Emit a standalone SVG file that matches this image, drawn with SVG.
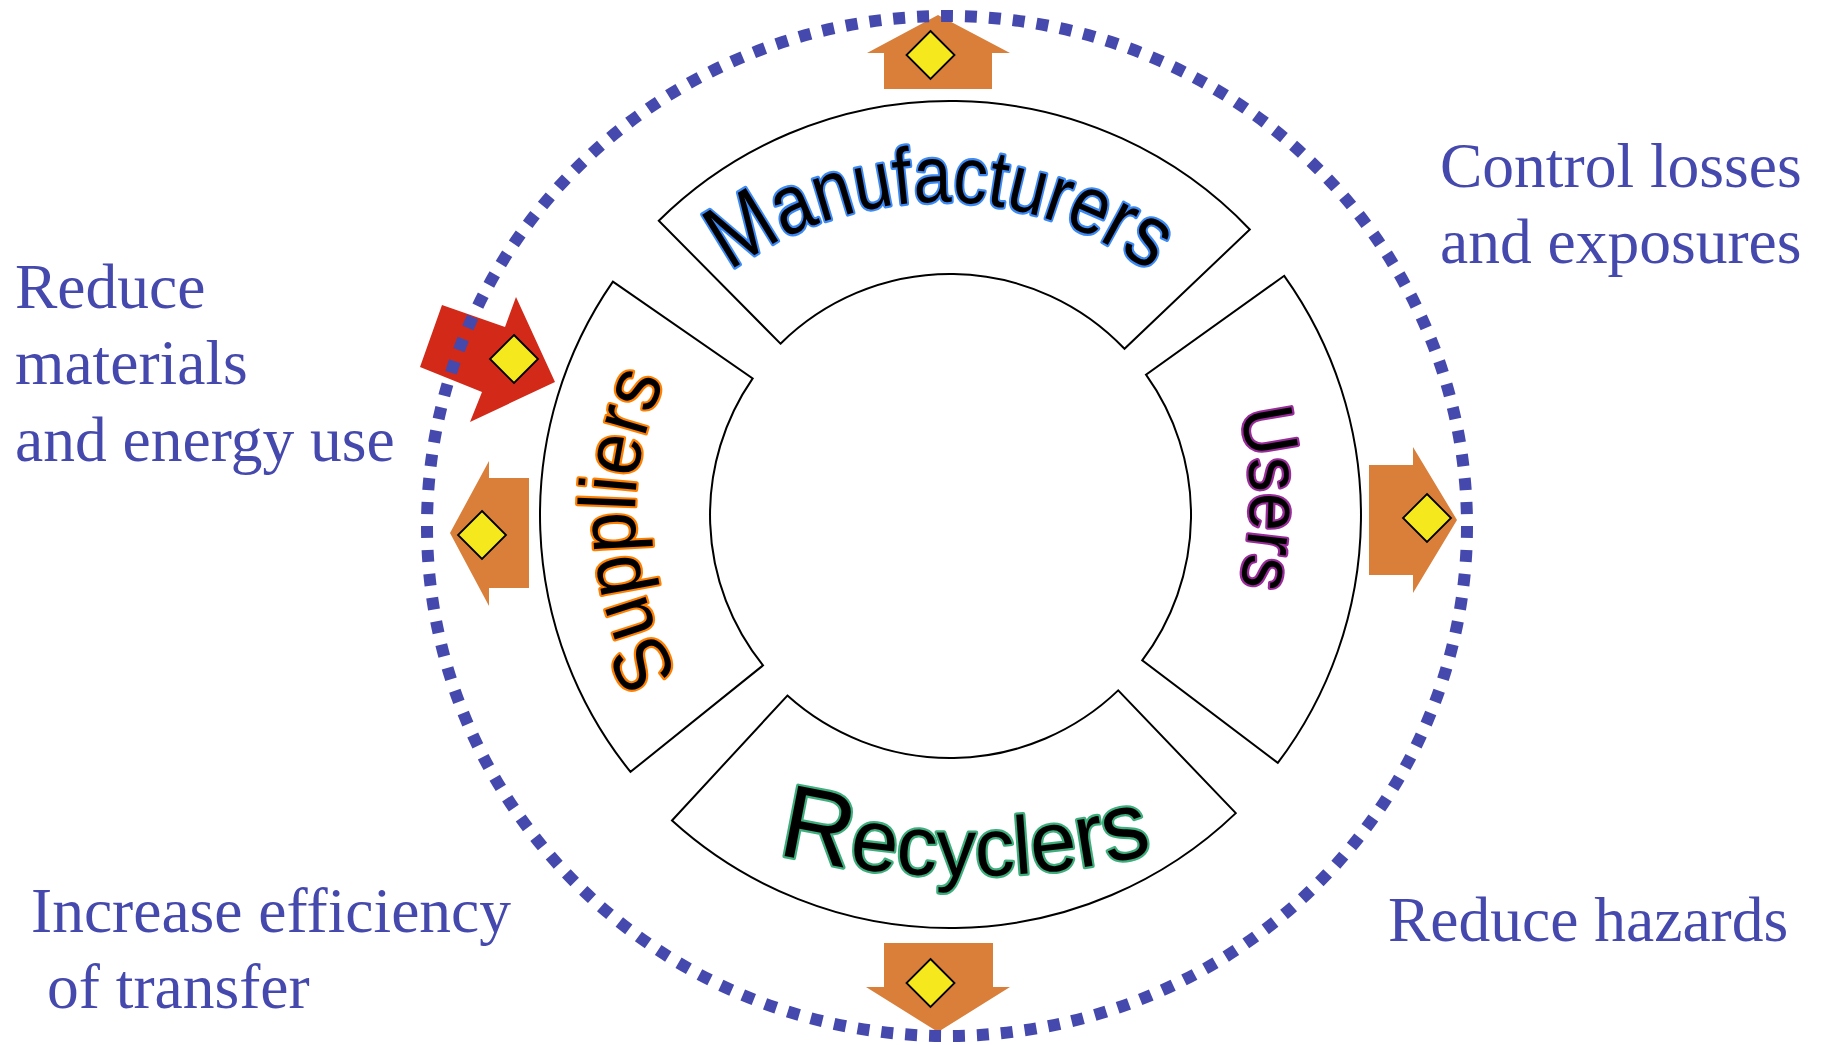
<svg xmlns="http://www.w3.org/2000/svg" width="1824" height="1045" viewBox="0 0 1824 1045">
<style>
.sector{fill:#ffffff;stroke:#000000;stroke-width:2;stroke-linejoin:miter}
.lbl{font-family:"Liberation Sans",Arial,sans-serif;fill:#000000;stroke-width:4.5;paint-order:stroke fill;stroke-linejoin:round}
.goal{font-family:"Liberation Serif","Times New Roman",serif;font-size:63.5px;fill:#4549AD}
.orange{fill:#D97F3A}
.red{fill:#D22918}
.dia{fill:#F5E91D;stroke:#000000;stroke-width:1.8;stroke-linejoin:miter}
.ring{fill:none;stroke:#4549AD;stroke-width:12;stroke-dasharray:12 12}
</style>
<defs>
<polygon id="dia" class="dia" points="0,-24 24,0 0,24 -24,0"/>
<path id="pM" d="M 611.1 432.3 A 350 350 0 0 1 1268.9 432.3"/>
<path id="pS" d="M 792.5 787.8 A 315 315 0 0 1 792.5 242.2"/>
<path id="pU" d="M 1065 177.6 A 370 370 0 0 1 1065 818.4"/>
<path id="pR" d="M 691.4 827.8 A 800 800 0 0 0 1238.6 827.8"/>
</defs>
<rect width="1824" height="1045" fill="#ffffff"/>

<g id="manufacturers">
<path class="sector" d="M 658.8 220.7 A 414 414 0 0 1 1249.8 229.5 L 1124.5 348.8 A 241 241 0 0 0 780.5 343.7 Z"/>
<text class="lbl" stroke="#3D8AF5"><textPath href="#pM" startOffset="50%" text-anchor="middle" textLength="450" lengthAdjust="spacingAndGlyphs"><tspan font-size="90">M</tspan><tspan font-size="84">a</tspan><tspan font-size="82">n</tspan><tspan font-size="80">ufactur</tspan><tspan font-size="82">e</tspan><tspan font-size="84">r</tspan><tspan font-size="88">s</tspan></textPath></text>
</g>
<g id="users">
<path class="sector" d="M 1284.2 275.8 A 411 411 0 0 1 1277.8 762.9 L 1142.2 660.4 A 241 241 0 0 0 1146.0 374.7 Z"/>
<text class="lbl" font-size="74" stroke="#9A2C9A"><textPath href="#pU" startOffset="50%" text-anchor="middle" textLength="176" lengthAdjust="spacingAndGlyphs">Users</textPath></text>
</g>
<g id="recyclers">
<path class="sector" d="M 1235.8 813.1 L 1118.2 690.4 A 243 243 0 0 1 787.4 695.6 L 672 820.5 A 413 413 0 0 0 1235.8 813.1 Z"/>
<text class="lbl" stroke="#3DAE7C"><textPath href="#pR" startOffset="50%" text-anchor="middle" textLength="380" lengthAdjust="spacingAndGlyphs"><tspan font-size="104">R</tspan><tspan font-size="88">e</tspan><tspan font-size="84">c</tspan><tspan font-size="82">ycl</tspan><tspan font-size="86">e</tspan><tspan font-size="90">r</tspan><tspan font-size="96">s</tspan></textPath></text>
</g>
<g id="suppliers">
<path class="sector" d="M 612.9 281.6 L 752.7 378.4 A 240 240 0 0 0 763.0 665.4 L 630.5 771.9 A 410 410 0 0 1 612.9 281.6 Z"/>
<text class="lbl" font-size="80" stroke="#FF8000"><textPath href="#pS" startOffset="47.8%" text-anchor="middle" textLength="306" lengthAdjust="spacingAndGlyphs">Suppliers</textPath></text>
</g>

<g id="goal-control">
<text class="goal" x="1440" y="187">Control losses</text>
<text class="goal" x="1440" y="263">and exposures</text>
</g>
<g id="goal-reduce-materials">
<text class="goal" x="15" y="308">Reduce</text>
<text class="goal" x="15" y="384">materials</text>
<text class="goal" x="15" y="461">and energy use</text>
</g>
<g id="goal-efficiency">
<text class="goal" x="31" y="932">Increase efficiency</text>
<text class="goal" x="47" y="1008">of transfer</text>
</g>
<g id="goal-hazards">
<text class="goal" x="1388" y="941">Reduce hazards</text>
</g>

<g id="connectors">
<g id="arrow-top">
<polygon class="orange" points="884,89 884,53 867,53 938,15 1010,53 992,53 992,89"/>
<use href="#dia" x="930.5" y="55"/>
</g>
<g id="arrow-bottom">
<polygon class="orange" points="884,943 993,943 993,987 1010,987 938,1032 866,987 884,987"/>
<use href="#dia" x="930.5" y="983"/>
</g>
<g id="arrow-left">
<polygon class="orange" points="529,478 489,478 489,461 450,533 489,606 489,588 529,588"/>
<use href="#dia" x="482" y="535"/>
</g>
<g id="arrow-right">
<polygon class="orange" points="1369,465 1413,465 1413,447 1457,520 1413,593 1413,575 1369,575"/>
<use href="#dia" x="1427" y="518"/>
</g>
<g id="arrow-in">
<polygon class="red" points="442,305 505,327 516,297 555,382 470,422 482,392 420,367"/>
<use href="#dia" x="514" y="359"/>
</g>
<ellipse id="boundary" class="ring" cx="947" cy="526" rx="520" ry="510" pathLength="3240"/>
</g>
</svg>
